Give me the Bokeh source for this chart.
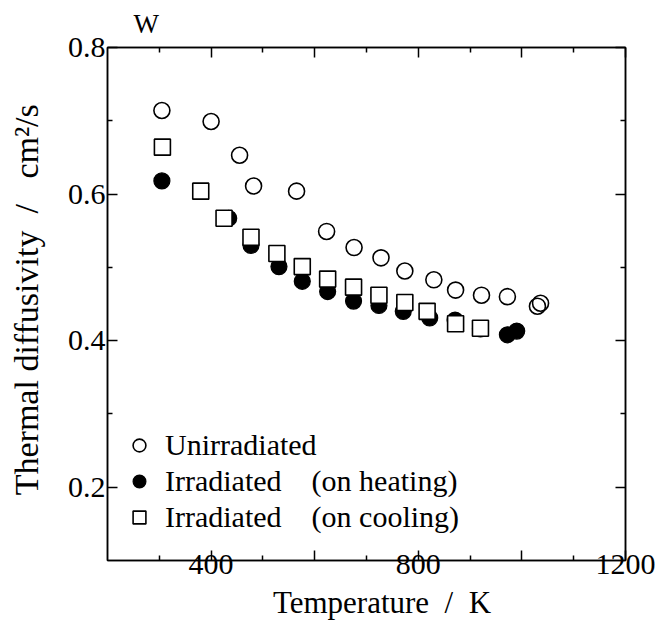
from bokeh.plotting import figure
from bokeh.models import (Range1d, LinearAxis, FixedTicker, Legend, LegendItem,
                          CustomJSTickFormatter)
from bokeh.embed import file_html
from bokeh.resources import INLINE

# ---- data ----
temp_unirr = [305, 400, 455, 482, 565, 623, 676, 728, 774, 830, 872, 922, 972, 1036, 1030]
diff_unirr = [0.714, 0.699, 0.653, 0.611, 0.604, 0.549, 0.527, 0.513, 0.495, 0.483,
              0.469, 0.462, 0.460, 0.451, 0.447]

temp_heat = [305, 434, 477, 531, 576, 625, 675, 724, 771, 822, 871, 920, 972, 990]
diff_heat = [0.618, 0.567, 0.530, 0.501, 0.481, 0.467, 0.454, 0.448, 0.440, 0.431,
             0.428, 0.416, 0.408, 0.413]

temp_cool = [306, 380, 425, 477, 527, 576, 625, 675, 724, 774, 817, 872, 920]
diff_cool = [0.664, 0.604, 0.567, 0.541, 0.519, 0.501, 0.484, 0.473, 0.462, 0.452,
             0.440, 0.423, 0.417]

x_major = [400, 600, 800, 1000, 1200]
x_minor = [300, 500, 700, 900, 1100]
x_labels = {400: "400", 600: "", 800: "800", 1000: "", 1200: "1200"}
y_major = [0.2, 0.4, 0.6, 0.8]
y_minor = [0.3, 0.5, 0.7]

NB = "\u00a0"
series_names = ["Unirradiated",
                "Irradiated" + NB * 4 + "(on heating)",
                "Irradiated" + NB * 4 + "(on cooling)"]
panel_title = "W"

FONT = "Liberation Serif"

p = figure(width=658, height=622, output_backend="svg", toolbar_location=None,
           x_range=Range1d(200, 1200), y_range=Range1d(0.1, 0.8),
           x_axis_label=NB * 4 + "Temperature" + NB * 2 + "/" + NB * 2 + "K",
           y_axis_label=NB + "Thermal diffusivity" + NB * 2 + "/" + NB * 3 + "cm\u00b2/s",
           min_border_left=107, min_border_right=33, min_border_top=47,
           min_border_bottom=62)
p.grid.visible = False
p.outline_line_color = "black"
p.outline_line_width = 1.5
p.background_fill_color = "white"
p.border_fill_color = "white"

p.title.text = panel_title
p.title.align = "left"
p.title.vertical_align = "top"
p.title.offset = 26
p.title.text_font = FONT
p.title.text_font_size = "27px"
p.title.text_font_style = "normal"
p.title.text_color = "black"
p.title.standoff = 14

def style_axis(ax, ticks, minor, show_labels):
    ax.ticker = FixedTicker(ticks=ticks, minor_ticks=minor)
    ax.axis_line_width = 1.5
    ax.axis_line_color = "black"
    ax.major_tick_in = 10
    ax.major_tick_out = 0
    ax.minor_tick_in = 5
    ax.minor_tick_out = 0
    ax.major_tick_line_width = 1.5
    ax.minor_tick_line_width = 1.5
    ax.major_label_text_font = FONT
    ax.major_label_text_font_size = "30px"
    ax.major_label_text_color = "black"
    ax.axis_label_text_font = FONT
    ax.axis_label_text_font_style = "normal"
    ax.axis_label_text_color = "black"
    if not show_labels:
        ax.formatter = CustomJSTickFormatter(code="return ''")
        ax.major_label_text_font_size = "0px"
        ax.major_label_standoff = 0

xa = p.xaxis[0]
style_axis(xa, x_major, x_minor, True)
xa.major_label_overrides = x_labels
xa.major_label_standoff = -6
xa.axis_label_standoff = 8
xa.axis_label_text_font_size = "31px"

ya = p.yaxis[0]
style_axis(ya, y_major, y_minor, True)
ya.major_label_standoff = 2
ya.axis_label_standoff = 20
ya.axis_label_text_font_size = "34px"

top_ax = LinearAxis()
style_axis(top_ax, x_major, x_minor, False)
p.add_layout(top_ax, "above")
right_ax = LinearAxis()
style_axis(right_ax, y_major, y_minor, False)
p.add_layout(right_ax, "right")

r_unirr = p.scatter(temp_unirr, diff_unirr, marker="circle", size=16,
                    fill_color=None, line_color="black", line_width=1.6)
r_heat = p.scatter(temp_heat, diff_heat, marker="circle", size=16,
                   fill_color="black", line_color="black", line_width=1.2)
r_cool = p.scatter(temp_cool, diff_cool, marker="square", size=16,
                   fill_color="white", line_color="black", line_width=1.6)

legend = Legend(items=[LegendItem(label=series_names[0], renderers=[r_unirr]),
                       LegendItem(label=series_names[1], renderers=[r_heat]),
                       LegendItem(label=series_names[2], renderers=[r_cool])],
                location=(16, 26), orientation="vertical",
                border_line_alpha=0, background_fill_alpha=0,
                padding=0, margin=0, spacing=2,
                glyph_width=32, glyph_height=32, label_standoff=10,
                label_height=30,
                label_text_font=FONT, label_text_font_size="30px",
                label_text_color="black")
p.add_layout(legend)

open("out.html", "w").write(file_html(p, INLINE))
